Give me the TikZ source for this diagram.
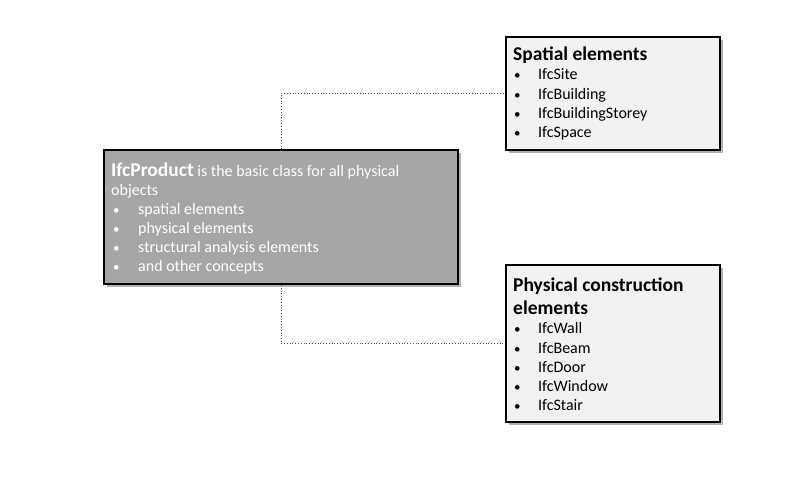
\documentclass[tikz,border=0pt]{standalone}
\usepackage{fontspec}
\setmainfont{Carlito}
\usetikzlibrary{shadows}
\begin{document}
\begin{tikzpicture}[x=1pt,y=-1pt,
  boxstyle/.style={draw=black, line width=1.8pt, rectangle, inner sep=0pt,
    drop shadow={shadow xshift=3pt, shadow yshift=-3pt, opacity=0.3, fill=black}},
  txt/.style={anchor=base west, inner sep=0pt, font=\fontsize{16}{18}\selectfont},
  bul/.style={anchor=base west, inner sep=0pt, font=\fontsize{13}{15}\selectfont},
  ttl/.style={anchor=base west, inner sep=0pt, font=\fontsize{19.5}{22}\selectfont\bfseries},
  link/.style={draw=black!70, dotted, line width=0.8pt}]
\useasboundingbox (0,0) rectangle (800,484);
\fill[white] (0,0) rectangle (800,484);
% boxes
\node[boxstyle, fill=black!35, minimum width=354pt, minimum height=134pt] (main) at (281,217) {};
\node[boxstyle, fill=black!5, minimum width=214pt, minimum height=113pt] (spatial) at (613,93.5) {};
\node[boxstyle, fill=black!5, minimum width=214pt, minimum height=157pt] (phys) at (613,343.5) {};
% connectors
\draw[link] (main.north) |- (spatial.west);
\draw[link] (main.south) |- (phys.west);
% main text
\node[txt, text=white] (m0) at (111,176) {{\fontsize{19.5}{22}\selectfont\bfseries IfcProduct} is the basic class for all physical};
\node[txt, text=white] (m1) at (111,195) {objects};
\foreach \y/\t [count=\i] in {214/spatial elements, 233/physical elements, 252/structural analysis elements, 271/and other concepts}{
  \node[bul, text=white] (mb\i) at (113,\y) {\textbullet};
  \node[txt, text=white] (mt\i) at (138,\y) {\t};
}
% spatial text
\node[ttl] (s0) at (513,61) {Spatial elements};
\foreach \y/\t [count=\i] in {80/IfcSite, 100/IfcBuilding, 119/IfcBuildingStorey, 138/IfcSpace}{
  \node[bul] (sb\i) at (514,\y) {\textbullet};
  \node[txt] (st\i) at (538,\y) {\t};
}
% physical text
\node[ttl] (p0) at (513,291) {Physical construction};
\node[ttl] (p1) at (513,314) {elements};
\foreach \y/\t [count=\i] in {333/IfcWall, 353/IfcBeam, 372/IfcDoor, 391/IfcWindow, 410/IfcStair}{
  \node[bul] (pb\i) at (514,\y) {\textbullet};
  \node[txt] (pt\i) at (538,\y) {\t};
}
\end{tikzpicture}
\end{document}
